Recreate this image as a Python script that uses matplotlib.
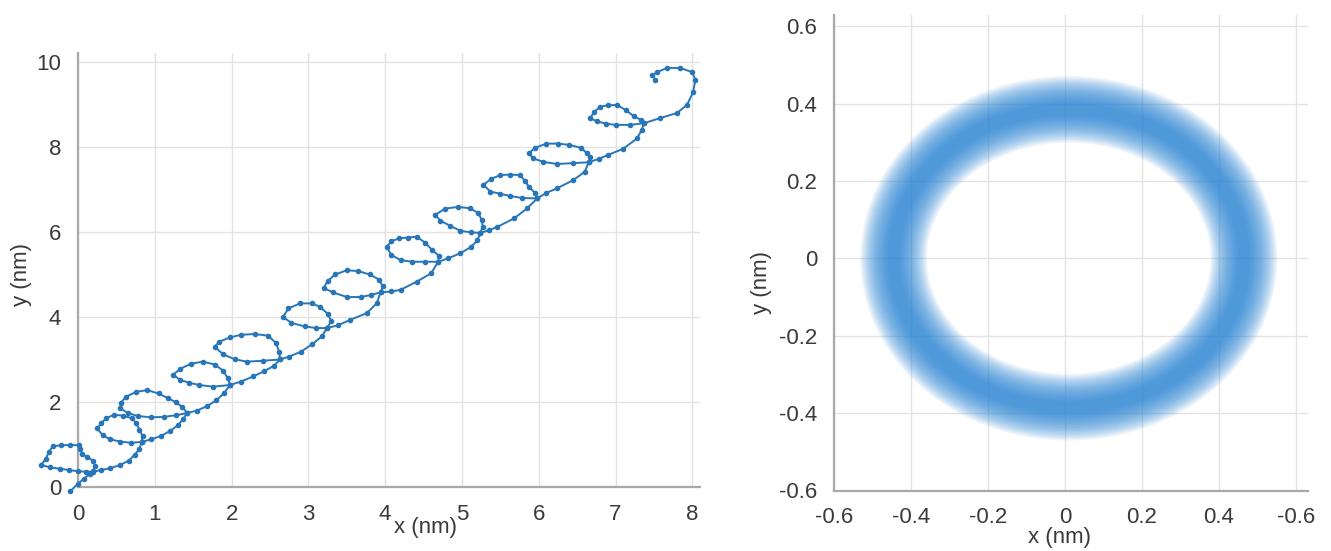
import matplotlib
matplotlib.use('Agg')
import matplotlib.pyplot as pl
from matplotlib.patches import Ellipse

OUTFILE = 'out.png'

# tracked path of the rotating marker (nm), in time order
path_x = [-0.1, 0.0, 0.08, 0.15, 0.2,
          0.22, 0.2, 0.12, 0.05, 0.03, 0.01, -0.1, -0.22, -0.33, -0.38, -0.42, -0.48,
          -0.36, -0.24, -0.12, 0.0, 0.1, 0.2,
          0.3, 0.42, 0.55, 0.66, 0.74, 0.8, 0.83,
          0.84, 0.8, 0.76, 0.7, 0.58, 0.47, 0.37, 0.3, 0.25, 0.32, 0.42, 0.55, 0.69, 0.83,
          0.95, 1.08, 1.2, 1.3, 1.37, 1.42,
          1.36, 1.27, 1.17, 1.05, 0.9, 0.76, 0.62, 0.56, 0.55, 0.65, 0.78, 0.95, 1.12, 1.28, 1.42,
          1.55, 1.68, 1.8, 1.9, 1.98,
          1.95, 1.89, 1.78, 1.63, 1.47, 1.33, 1.24, 1.33, 1.45, 1.58, 1.76, 1.98,
          2.12, 2.28, 2.42, 2.55, 2.63,
          2.62, 2.58, 2.48, 2.3, 2.12, 1.98, 1.84, 1.78, 1.89, 2.05, 2.2, 2.41, 2.63,
          2.75, 2.9, 3.05, 3.18, 3.24,
          3.3, 3.25, 3.15, 3.05, 2.89, 2.74, 2.67, 2.78, 2.95, 3.1, 3.24,
          3.38, 3.54, 3.76, 3.89, 3.94,
          3.97, 3.92, 3.8, 3.65, 3.5, 3.35, 3.25, 3.2, 3.32, 3.5, 3.68, 3.82, 3.94,
          4.08, 4.2, 4.41, 4.6, 4.69,
          4.7, 4.61, 4.52, 4.41, 4.3, 4.18, 4.08, 4.02, 4.08, 4.2, 4.35, 4.52, 4.69,
          4.82, 4.98, 5.12, 5.2, 5.24,
          5.27, 5.26, 5.21, 5.1, 4.95, 4.78, 4.65, 4.72, 4.85, 4.98, 5.12, 5.24,
          5.35, 5.46, 5.68, 5.85, 5.98,
          5.95, 5.87, 5.82, 5.76, 5.62, 5.5, 5.38, 5.28, 5.37, 5.5, 5.62, 5.78, 5.98,
          6.1, 6.24, 6.45, 6.6, 6.65,
          6.67, 6.63, 6.55, 6.4, 6.25, 6.1, 5.95, 5.87, 5.93, 6.06, 6.24, 6.45, 6.65,
          6.78, 6.9, 7.1, 7.28, 7.34, 7.37,
          7.33, 7.24, 7.14, 7.02, 6.9, 6.8, 6.72, 6.67, 6.76, 6.88, 7.0, 7.19, 7.37,
          7.58, 7.8, 7.93, 8.01, 8.04, 8.0, 7.84, 7.67, 7.54, 7.48, 7.52]
path_y = [-0.1, 0.08, 0.2, 0.3, 0.38,
          0.5, 0.62, 0.7, 0.78, 0.9, 0.98, 0.99, 0.98, 0.96, 0.82, 0.66, 0.52,
          0.46, 0.43, 0.4, 0.37, 0.36, 0.36,
          0.4, 0.44, 0.52, 0.62, 0.76, 0.9, 1.06,
          1.2, 1.35, 1.5, 1.62, 1.68, 1.7, 1.62, 1.5, 1.38, 1.22, 1.12, 1.07, 1.04, 1.06,
          1.12, 1.2, 1.32, 1.45, 1.6, 1.74,
          1.88, 2.0, 2.09, 2.2, 2.28, 2.24, 2.12, 1.98, 1.85, 1.74, 1.67, 1.64, 1.65, 1.69, 1.74,
          1.8, 1.9, 2.04, 2.2, 2.4,
          2.56, 2.74, 2.88, 2.95, 2.9, 2.78, 2.64, 2.52, 2.45, 2.4, 2.36, 2.4,
          2.48, 2.6, 2.72, 2.85, 3.0,
          3.18, 3.38, 3.56, 3.6, 3.58, 3.52, 3.42, 3.3, 3.12, 3.0, 2.95, 2.97, 3.0,
          3.07, 3.18, 3.36, 3.55, 3.74,
          3.9, 4.08, 4.24, 4.32, 4.32, 4.2, 4.0, 3.86, 3.78, 3.74, 3.74,
          3.8, 3.93, 4.09, 4.32, 4.58,
          4.72, 4.88, 5.0, 5.08, 5.1, 5.0, 4.85, 4.68, 4.58, 4.47, 4.47, 4.52, 4.58,
          4.6, 4.64, 4.83, 5.03, 5.3,
          5.44, 5.58, 5.75, 5.89, 5.87, 5.85, 5.78, 5.65, 5.46, 5.34, 5.3, 5.3, 5.3,
          5.38, 5.5, 5.65, 5.8, 5.98,
          6.12, 6.28, 6.45, 6.56, 6.59, 6.55, 6.4, 6.27, 6.14, 6.03, 5.99, 5.98,
          6.04, 6.12, 6.32, 6.56, 6.79,
          6.92, 7.07, 7.2, 7.34, 7.35, 7.34, 7.25, 7.11, 6.95, 6.9, 6.85, 6.8, 6.79,
          6.92, 7.03, 7.22, 7.42, 7.64,
          7.76, 7.85, 7.98, 8.05, 8.08, 8.08, 7.98, 7.85, 7.73, 7.65, 7.6, 7.62, 7.64,
          7.72, 7.81, 7.96, 8.2, 8.4, 8.56,
          8.64, 8.72, 8.86, 8.99, 8.98, 8.95, 8.82, 8.68, 8.6, 8.55, 8.52, 8.52, 8.56,
          8.68, 8.8, 8.99, 9.29, 9.58, 9.76, 9.86, 9.86, 9.76, 9.69, 9.58]

# ring of positions after removing the drift (nm)
ring_center = (0.01, 0.0)
ring_width = 0.91
ring_height = 0.77

left_xticks = [0, 1, 2, 3, 4, 5, 6, 7, 8]
left_yticks = [0, 2, 4, 6, 8, 10]
right_ticks = [-0.6, -0.4, -0.2, 0, 0.2, 0.4, 0.6]
right_xlabels = ['-0.6', '-0.4', '-0.2', '0', '0.2', '0.4', '-0.6']
right_ylabels = ['-0.6', '-0.4', '-0.2', '0', '0.2', '0.4', '0.6']

TXT = '#3a3a3a'
GRID = '#e3e3e3'
SPINE = '#a8a8a8'
FS = 16

pl.rcParams['font.family'] = ['Liberation Sans', 'DejaVu Sans']
pl.rcParams['axes.unicode_minus'] = False


def style(ax):
    for s in ['top', 'right']:
        ax.spines[s].set_visible(False)
    for s in ['left', 'bottom']:
        ax.spines[s].set_color(SPINE)
        ax.spines[s].set_linewidth(1.6)
    ax.grid(True, color=GRID, linewidth=1.0)
    ax.set_axisbelow(True)
    ax.tick_params(length=0, labelsize=FS, labelcolor=TXT, pad=12)


fig = pl.figure(figsize=(13.31, 5.51), dpi=100)

ax = fig.add_axes([78/1331, 64/551, 622/1331, 433.5/551])
style(ax)
ax.plot(path_x, path_y, '-o', color='#2876b8', lw=1.4, ms=3.0, clip_on=False, zorder=3)
ax.set_xlim(0, 8.1)
ax.set_ylim(0, 10.2)
ax.set_xticks(left_xticks)
ax.set_yticks(left_yticks)
fig.text(425/1331, 1 - 528/551, 'x (nm)', ha='center', va='center', fontsize=FS, color=TXT)
fig.text(22/1331, 1 - 275/551, 'y (nm)', ha='center', va='center', rotation=90,
         fontsize=FS, color=TXT)

ax2 = fig.add_axes([834/1331, 60.5/551, 473.5/1331, 476/551])
style(ax2)
ax2.set_xlim(-0.6, 0.63)
ax2.set_ylim(-0.6, 0.63)
ax2.set_xticks(right_ticks)
ax2.set_xticklabels(right_xlabels)
ax2.set_yticks(right_ticks)
ax2.set_yticklabels(right_ylabels)
# soft band: stacked translucent outlines so the edges fade out
for lw in range(8, 50, 2):
    ax2.add_patch(Ellipse(ring_center, ring_width, ring_height, fill=False,
                          edgecolor='#2a86d6', lw=lw, alpha=0.075, zorder=3))
fig.text(1060/1331, 1 - 538/551, 'x (nm)', ha='center', va='center', fontsize=FS, color=TXT)
fig.text(762/1331, 1 - 282/551, 'y (nm)', ha='center', va='center', rotation=90,
         fontsize=FS, color=TXT)

pl.savefig(OUTFILE, dpi=100)
